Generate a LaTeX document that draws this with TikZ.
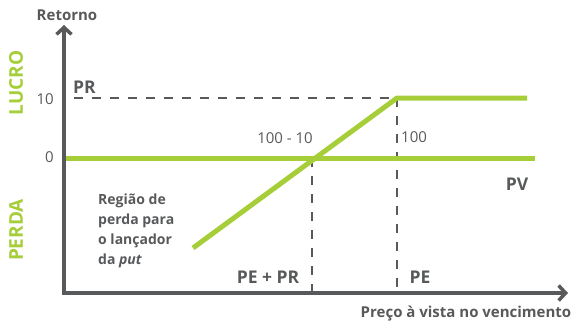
\documentclass[tikz,border=0pt]{standalone}
\usepackage{fontspec}
\setmainfont{Open Sans}
\usetikzlibrary{arrows.meta}
\definecolor{dk}{HTML}{58595B}
\definecolor{gr}{HTML}{A6CE39}
\tikzset{
  axis/.style={draw=dk,line width=4.5pt,-{Straight Barb[length=7pt,width=15pt,line width=3.5pt]}},
  payoff/.style={draw=gr,line width=5pt},
  guide/.style={draw=dk,line width=2pt,dash pattern=on 9pt off 9pt},
  lbl/.style={text=dk,font=\fontsize{15}{17}\selectfont\bfseries,inner sep=0pt},
  big/.style={text=dk,font=\fontsize{17.5}{19}\selectfont\bfseries,inner sep=0pt},
  num/.style={text=dk,font=\fontsize{15}{17}\selectfont,inner sep=0pt},
  side/.style={text=gr,font=\fontsize{19}{21}\selectfont\bfseries,inner sep=0pt,rotate=90}
}
\begin{document}
\begin{tikzpicture}[x=1pt,y=-1pt]
\useasboundingbox (0,0) rectangle (571,322);
% coordinates
\coordinate (O) at (64,293);
\coordinate (ytop) at (64,25);
\coordinate (xend) at (568,293);
\coordinate (y10) at (74,98);
\coordinate (kink) at (397,98);
\coordinate (cross) at (312,158);
\coordinate (start) at (193,248);
\coordinate (end10) at (527,98);
\coordinate (z0) at (64,158);
\coordinate (zend) at (535,158);
\coordinate (kinkb) at (397,293);
\coordinate (crossb) at (312,293);
% guides
\draw[guide] (y10) -- (kink);
\draw[guide] (kink) -- (kinkb);
\draw[guide] (cross) -- (crossb);
% payoff
\draw[payoff] (z0) -- (zend);
\draw[payoff,line join=miter] (start) -- (kink) -- (end10);
% axes
\draw[axis,shorten <=-2.2pt] (O) -- (ytop);
\draw[axis,shorten <=-2.2pt] (O) -- (xend);
% labels
\node[lbl] (ret) at (67,15) {Retorno};
\node[big,anchor=west] (pr) at (73,87) {PR};
\node[num,anchor=east] (ten) at (54,99) {10};
\node[num,anchor=east] (zero) at (54,157) {0};
\node[side] (lucro) at (16,83) {LUCRO};
\node[side] (perda) at (16,230) {PERDA};
\node[num] (a) at (285,138) {100 - 10};
\node[num,anchor=west] (b) at (401,137) {100};
\node[big] (pv) at (517,184) {PV};
\node[lbl,anchor=north west,align=left,font=\fontsize{14}{20}\selectfont\bfseries] (reg) at (98,194) {Região de\\perda para\\o lançador\\da \textit{put}};
\node[big] (pepr) at (268,277) {PE + PR};
\node[big] (pe) at (420,277) {PE};
\node[lbl] (pv2) at (466,314) {Preço à vista no vencimento};
\end{tikzpicture}
\end{document}
